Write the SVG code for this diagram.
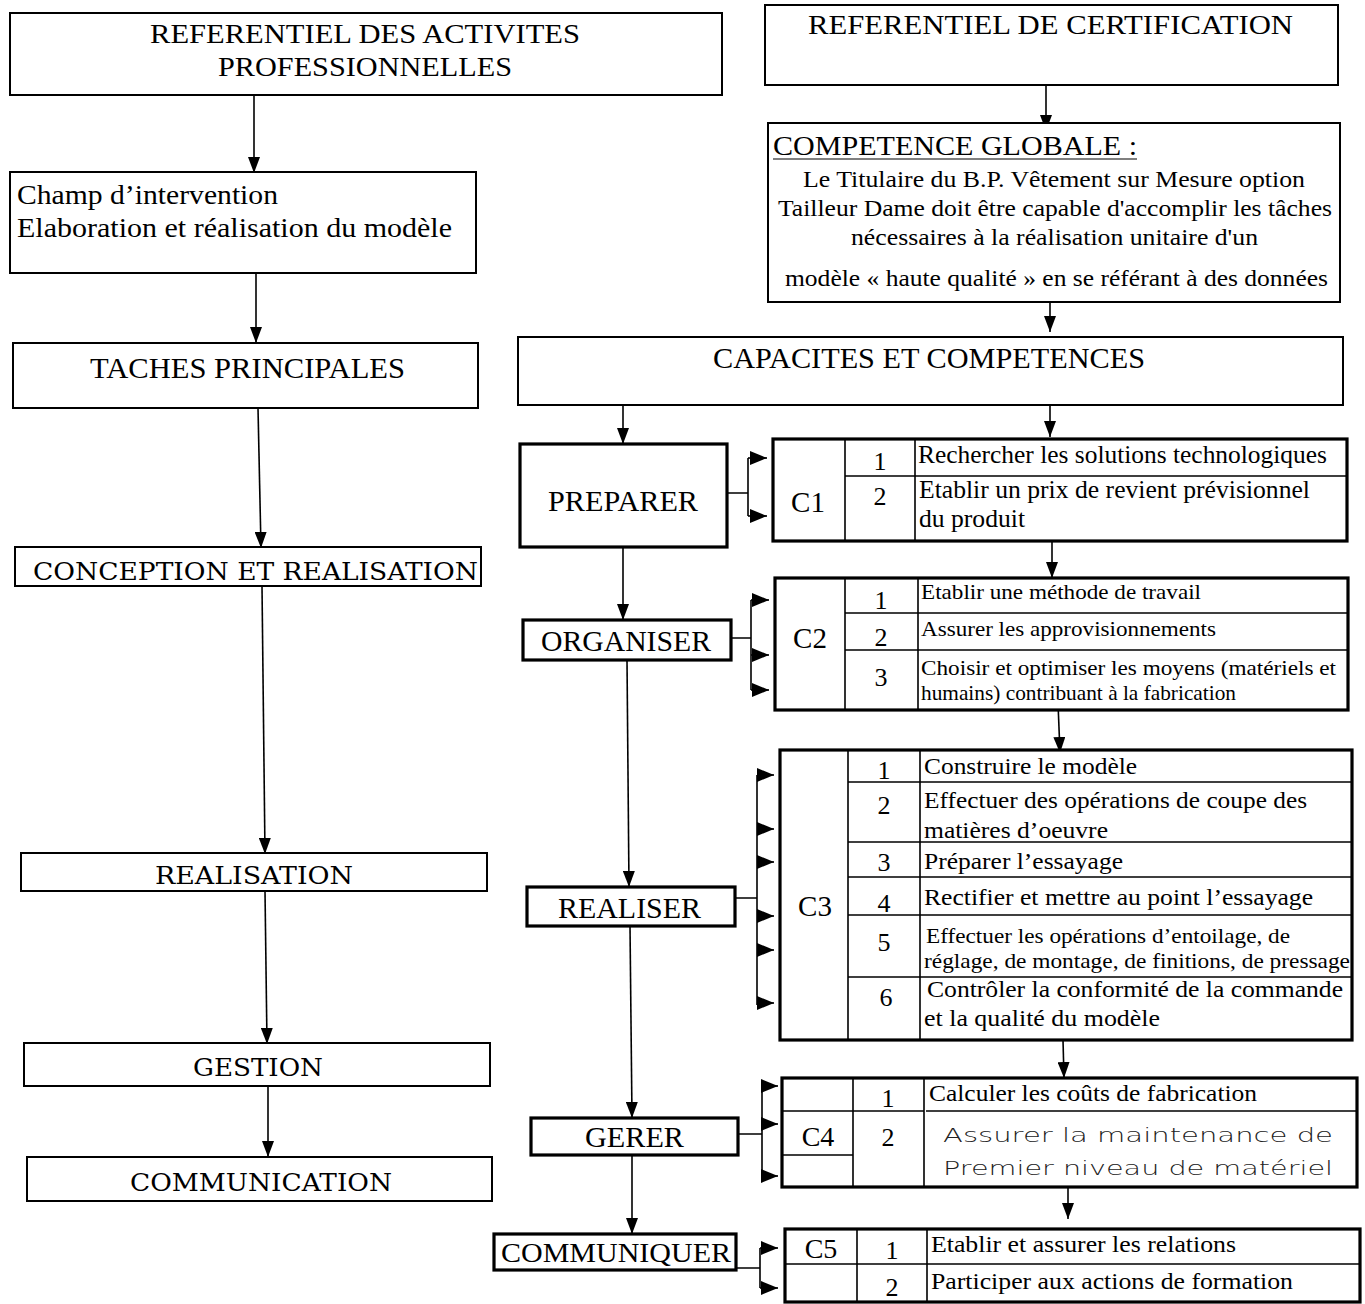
<svg xmlns="http://www.w3.org/2000/svg" width="1365" height="1304" viewBox="0 0 1365 1304">
<style>
.bx{fill:#fff;stroke:#000;stroke-width:2}
.tk{fill:#fff;stroke:#000;stroke-width:3.2}
.ln{fill:none;stroke:#000;stroke-width:1.6}
.cn{fill:none;stroke:#000;stroke-width:1.6}
.t{font-family:"Liberation Serif","Times New Roman",serif;fill:#000}
.w{font-family:"DejaVu Serif","Liberation Serif",serif;fill:#000}
.h{font-family:"DejaVu Sans","Liberation Sans",sans-serif;fill:#222;font-weight:300}
.m{text-anchor:middle}
</style>
<defs>
<marker id="ad" viewBox="0 0 16 12" refX="16" refY="6" markerWidth="16" markerHeight="12" markerUnits="userSpaceOnUse" orient="auto"><path d="M0,0 L16,6 L0,12 z" fill="#000"/></marker>
<marker id="ar" viewBox="0 0 17 14" refX="17" refY="7" markerWidth="17" markerHeight="14" markerUnits="userSpaceOnUse" orient="auto"><path d="M0,0 L17,7 L0,14 z" fill="#000"/></marker>
</defs>
<rect width="1365" height="1304" fill="#fff"/>

<g id="connectors">
<line class="cn" x1="254" y1="95" x2="254" y2="173" marker-end="url(#ad)"/>
<line class="cn" x1="256" y1="273" x2="256" y2="343" marker-end="url(#ad)"/>
<line class="cn" x1="258" y1="408" x2="261" y2="548" marker-end="url(#ad)"/>
<line class="cn" x1="262" y1="586" x2="265" y2="854" marker-end="url(#ad)"/>
<line class="cn" x1="265" y1="891" x2="267" y2="1044" marker-end="url(#ad)"/>
<line class="cn" x1="268" y1="1086" x2="268" y2="1157" marker-end="url(#ad)"/>
<line class="cn" x1="1046" y1="85" x2="1046" y2="131" marker-end="url(#ad)"/>
<line class="cn" x1="1050" y1="302" x2="1050" y2="332" marker-end="url(#ad)"/>
<line class="cn" x1="1050" y1="405" x2="1050" y2="437" marker-end="url(#ad)"/>
<line class="cn" x1="623" y1="405" x2="623" y2="444" marker-end="url(#ad)"/>
<line class="cn" x1="1052" y1="541" x2="1052" y2="578" marker-end="url(#ad)"/>
<line class="cn" x1="623" y1="547" x2="623" y2="620" marker-end="url(#ad)"/>
<line class="cn" x1="1058" y1="703" x2="1060" y2="753" marker-end="url(#ad)"/>
<line class="cn" x1="627" y1="660" x2="629" y2="887" marker-end="url(#ad)"/>
<line class="cn" x1="1063" y1="1040" x2="1064" y2="1078" marker-end="url(#ad)"/>
<line class="cn" x1="630" y1="926" x2="632" y2="1118" marker-end="url(#ad)"/>
<line class="cn" x1="1068" y1="1188" x2="1068" y2="1219" marker-end="url(#ad)"/>
<line class="cn" x1="632" y1="1155" x2="632" y2="1234" marker-end="url(#ad)"/>
<path class="ln" d="M727,493 H748 M748,458 V516"/>
<line class="cn" x1="748" y1="458" x2="767" y2="458" marker-end="url(#ar)"/>
<line class="cn" x1="748" y1="516" x2="767" y2="516" marker-end="url(#ar)"/>
<path class="ln" d="M731,638 H751 M751,600 V690"/>
<line class="cn" x1="751" y1="600" x2="769" y2="600" marker-end="url(#ar)"/>
<line class="cn" x1="751" y1="655" x2="769" y2="655" marker-end="url(#ar)"/>
<line class="cn" x1="751" y1="690" x2="769" y2="690" marker-end="url(#ar)"/>
<path class="ln" d="M735,898 H757 M757,775 V1005"/>
<line class="cn" x1="757" y1="775" x2="774" y2="775" marker-end="url(#ar)"/>
<line class="cn" x1="757" y1="829" x2="774" y2="829" marker-end="url(#ar)"/>
<line class="cn" x1="757" y1="862" x2="774" y2="862" marker-end="url(#ar)"/>
<line class="cn" x1="757" y1="916" x2="774" y2="916" marker-end="url(#ar)"/>
<line class="cn" x1="757" y1="950" x2="774" y2="950" marker-end="url(#ar)"/>
<line class="cn" x1="757" y1="1003" x2="774" y2="1003" marker-end="url(#ar)"/>
<path class="ln" d="M738,1134 H762 M762,1086 V1176"/>
<line class="cn" x1="762" y1="1086" x2="778" y2="1086" marker-end="url(#ar)"/>
<line class="cn" x1="762" y1="1124" x2="778" y2="1124" marker-end="url(#ar)"/>
<line class="cn" x1="762" y1="1176" x2="778" y2="1176" marker-end="url(#ar)"/>
<path class="ln" d="M736,1268 H760 M760,1248 V1288"/>
<line class="cn" x1="760" y1="1248" x2="778" y2="1248" marker-end="url(#ar)"/>
<line class="cn" x1="760" y1="1288" x2="778" y2="1288" marker-end="url(#ar)"/>
</g>

<g id="ref-activites">
<rect class="bx" x="10" y="13" width="712" height="82"/>
<text class="t m" x="365" y="43" font-size="28" textLength="430" lengthAdjust="spacingAndGlyphs">REFERENTIEL DES ACTIVITES</text>
<text class="t m" x="365" y="76" font-size="28" textLength="294" lengthAdjust="spacingAndGlyphs">PROFESSIONNELLES</text>
</g>

<g id="ref-certification">
<rect class="bx" x="765" y="5" width="573" height="80"/>
<text class="t" x="808" y="34" font-size="28" textLength="485" lengthAdjust="spacingAndGlyphs">REFERENTIEL DE CERTIFICATION</text>
</g>

<g id="champ">
<rect class="bx" x="10" y="172" width="466" height="101"/>
<text class="t" x="17" y="204" font-size="27" textLength="261" lengthAdjust="spacingAndGlyphs">Champ d’intervention</text>
<text class="t" x="17" y="237" font-size="27" textLength="435" lengthAdjust="spacingAndGlyphs">Elaboration et réalisation du modèle</text>
</g>

<g id="taches">
<rect class="bx" x="13" y="343" width="465" height="65"/>
<text class="t" x="90" y="378" font-size="29" textLength="315" lengthAdjust="spacingAndGlyphs">TACHES PRINCIPALES</text>
</g>

<g id="conception">
<rect class="bx" x="15" y="547" width="466" height="39"/>
<text class="w" x="33" y="580" font-size="24" textLength="445" lengthAdjust="spacingAndGlyphs">CONCEPTION ET REALISATION</text>
</g>

<g id="realisation">
<rect class="bx" x="21" y="853" width="466" height="38"/>
<text class="w" x="155" y="884" font-size="24" textLength="198" lengthAdjust="spacingAndGlyphs">REALISATION</text>
</g>

<g id="gestion">
<rect class="bx" x="24" y="1043" width="466" height="43"/>
<text class="w" x="193" y="1076" font-size="24" textLength="130" lengthAdjust="spacingAndGlyphs">GESTION</text>
</g>

<g id="communication">
<rect class="bx" x="27" y="1157" width="465" height="44"/>
<text class="w" x="130" y="1191" font-size="24" textLength="262" lengthAdjust="spacingAndGlyphs">COMMUNICATION</text>
</g>

<g id="competence-globale">
<rect class="bx" x="768" y="123" width="572" height="179"/>
<text class="t" x="773" y="155" font-size="27" textLength="364" lengthAdjust="spacingAndGlyphs">COMPETENCE GLOBALE :</text>
<line x1="773" y1="159" x2="1137" y2="159" stroke="#000" stroke-width="1.2"/>
<text class="t" x="803" y="187" font-size="23" textLength="502" lengthAdjust="spacingAndGlyphs">Le Titulaire du B.P. Vêtement sur Mesure option</text>
<text class="t" x="778" y="216" font-size="23" textLength="554" lengthAdjust="spacingAndGlyphs">Tailleur Dame doit être capable d'accomplir les tâches</text>
<text class="t" x="851" y="245" font-size="23" textLength="407" lengthAdjust="spacingAndGlyphs">nécessaires à la réalisation unitaire d'un</text>
<text class="t" x="785" y="286" font-size="23" textLength="543" lengthAdjust="spacingAndGlyphs">modèle « haute qualité » en se référant à des données</text>
</g>

<g id="capacites">
<rect class="bx" x="518" y="337" width="825" height="68"/>
<text class="t" x="713" y="368" font-size="29" textLength="432" lengthAdjust="spacingAndGlyphs">CAPACITES ET COMPETENCES</text>
</g>

<g id="preparer">
<rect class="tk" x="520" y="444" width="207" height="103"/>
<text class="t" x="548" y="511" font-size="30" textLength="150" lengthAdjust="spacingAndGlyphs">PREPARER</text>
</g>

<g id="organiser">
<rect class="tk" x="523" y="620" width="208" height="40"/>
<text class="t" x="541" y="651" font-size="29" textLength="170" lengthAdjust="spacingAndGlyphs">ORGANISER</text>
</g>

<g id="realiser">
<rect class="tk" x="527" y="887" width="208" height="39"/>
<text class="t" x="558" y="918" font-size="29" textLength="143" lengthAdjust="spacingAndGlyphs">REALISER</text>
</g>

<g id="gerer">
<rect class="tk" x="531" y="1118" width="207" height="37"/>
<text class="t" x="585" y="1147" font-size="29" textLength="99" lengthAdjust="spacingAndGlyphs">GERER</text>
</g>

<g id="communiquer">
<rect class="tk" x="494" y="1234" width="242" height="36"/>
<text class="t" x="501" y="1262" font-size="28" textLength="230" lengthAdjust="spacingAndGlyphs">COMMUNIQUER</text>
</g>

<g id="c1">
<rect class="tk" x="773" y="439" width="574" height="102"/>
<path class="ln" d="M845,439 V541 M915,439 V541 M845,476 H1347"/>
<text class="t m" x="808" y="512" font-size="29">C1</text>
<text class="t m" x="880" y="470" font-size="26">1</text>
<text class="t m" x="880" y="505" font-size="26">2</text>
<text class="t" x="918" y="463" font-size="25" textLength="409" lengthAdjust="spacingAndGlyphs">Rechercher les solutions technologiques</text>
<text class="t" x="919" y="498" font-size="25" textLength="391" lengthAdjust="spacingAndGlyphs">Etablir un prix de revient prévisionnel</text>
<text class="t" x="919" y="527" font-size="25" textLength="106" lengthAdjust="spacingAndGlyphs">du produit</text>
</g>

<g id="c2">
<rect class="tk" x="775" y="578" width="573" height="132"/>
<path class="ln" d="M845,578 V710 M918,578 V710 M845,613 H1348 M845,650 H1348"/>
<text class="t m" x="810" y="648" font-size="29">C2</text>
<text class="t m" x="881" y="609" font-size="26">1</text>
<text class="t m" x="881" y="646" font-size="26">2</text>
<text class="t m" x="881" y="686" font-size="26">3</text>
<text class="t" x="921" y="599" font-size="22" textLength="280" lengthAdjust="spacingAndGlyphs">Etablir une méthode de travail</text>
<text class="t" x="921" y="636" font-size="22" textLength="295" lengthAdjust="spacingAndGlyphs">Assurer les approvisionnements</text>
<text class="t" x="921" y="675" font-size="22" textLength="415" lengthAdjust="spacingAndGlyphs">Choisir et optimiser les moyens (matériels et</text>
<text class="t" x="921" y="700" font-size="22" textLength="315" lengthAdjust="spacingAndGlyphs">humains) contribuant à la fabrication</text>
</g>

<g id="c3">
<rect class="tk" x="780" y="750" width="572" height="290"/>
<path class="ln" d="M848,750 V1040 M920,750 V1040 M848,782 H1352 M848,842 H1352 M848,877 H1352 M848,915 H1352 M848,977 H1352"/>
<text class="t m" x="815" y="916" font-size="29">C3</text>
<text class="t m" x="884" y="779" font-size="26">1</text>
<text class="t m" x="884" y="814" font-size="26">2</text>
<text class="t m" x="884" y="871" font-size="26">3</text>
<text class="t m" x="884" y="912" font-size="26">4</text>
<text class="t m" x="884" y="951" font-size="26">5</text>
<text class="t m" x="886" y="1006" font-size="26">6</text>
<text class="t" x="924" y="774" font-size="24" textLength="213" lengthAdjust="spacingAndGlyphs">Construire le modèle</text>
<text class="t" x="924" y="808" font-size="24" textLength="383" lengthAdjust="spacingAndGlyphs">Effectuer des opérations de coupe des</text>
<text class="t" x="924" y="838" font-size="24" textLength="184" lengthAdjust="spacingAndGlyphs">matières d’oeuvre</text>
<text class="t" x="924" y="869" font-size="24" textLength="199" lengthAdjust="spacingAndGlyphs">Préparer l’essayage</text>
<text class="t" x="924" y="905" font-size="24" textLength="389" lengthAdjust="spacingAndGlyphs">Rectifier et mettre au point l’essayage</text>
<text class="t" x="926" y="943" font-size="22" textLength="364" lengthAdjust="spacingAndGlyphs">Effectuer les opérations d’entoilage, de</text>
<text class="t" x="924" y="968" font-size="22" textLength="426" lengthAdjust="spacingAndGlyphs">réglage, de montage, de finitions, de pressage</text>
<text class="t" x="927" y="997" font-size="24" textLength="416" lengthAdjust="spacingAndGlyphs">Contrôler la conformité de la commande</text>
<text class="t" x="924" y="1026" font-size="24" textLength="236" lengthAdjust="spacingAndGlyphs">et la qualité du modèle</text>
</g>

<g id="c4">
<rect class="tk" x="782" y="1078" width="575" height="109"/>
<path class="ln" d="M853,1078 V1187 M924,1078 V1187 M782,1111 H924 M782,1155 H853 M926,1111 H1357"/>
<text class="t m" x="818" y="1146" font-size="28">C4</text>
<text class="t m" x="888" y="1107" font-size="26">1</text>
<text class="t m" x="888" y="1146" font-size="26">2</text>
<text class="t" x="929" y="1101" font-size="24" textLength="328" lengthAdjust="spacingAndGlyphs">Calculer les coûts de fabrication</text>
<text class="h" x="943" y="1142" font-size="19" textLength="390" lengthAdjust="spacingAndGlyphs">Assurer la maintenance de</text>
<text class="h" x="943" y="1175" font-size="19" textLength="390" lengthAdjust="spacingAndGlyphs">Premier niveau de matériel</text>
</g>

<g id="c5">
<rect class="tk" x="785" y="1229" width="575" height="73"/>
<path class="ln" d="M857,1229 V1302 M927,1229 V1302 M785,1264 H1360"/>
<text class="t m" x="821" y="1258" font-size="28">C5</text>
<text class="t m" x="892" y="1259" font-size="26">1</text>
<text class="t m" x="892" y="1296" font-size="26">2</text>
<text class="t" x="931" y="1252" font-size="24" textLength="305" lengthAdjust="spacingAndGlyphs">Etablir et assurer les relations</text>
<text class="t" x="931" y="1289" font-size="24" textLength="362" lengthAdjust="spacingAndGlyphs">Participer aux actions de formation</text>
</g>
</svg>
